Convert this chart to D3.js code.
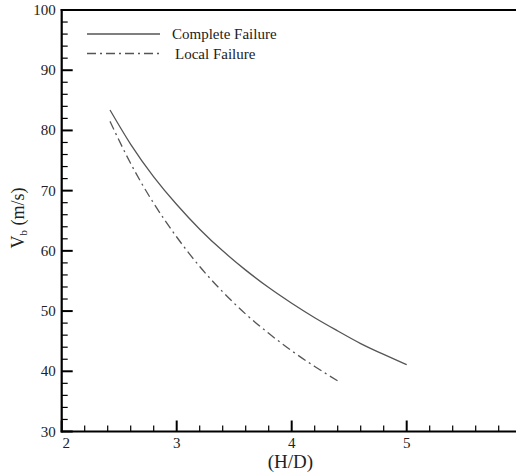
<!DOCTYPE html>
<html>
<head>
<meta charset="utf-8">
<script src="https://d3js.org/d3.v7.min.js"></script>
<style>
  body { margin: 0; background: #fff; }
  svg { display: block; }
  text { font-family: "Liberation Serif", "Times New Roman", serif; fill: #222; }
</style>
</head>
<body>
<svg id="chart" width="516" height="473"></svg>
<script>
// values
var complete_x = [2.42, 2.6, 2.8, 3.0, 3.2, 3.4, 3.6, 3.8, 4.0, 4.2, 4.4, 4.6, 4.8, 5.0];
var complete_v = [83.4, 77.7, 72.3, 67.7, 63.6, 60.0, 56.8, 53.9, 51.3, 48.9, 46.7, 44.6, 42.8, 41.1];
var local_x = [2.42, 2.6, 2.8, 3.0, 3.2, 3.4, 3.6, 3.8, 4.0, 4.2, 4.4];
var local_v = [81.5, 74.5, 67.9, 62.3, 57.4, 53.2, 49.5, 46.3, 43.4, 40.8, 38.4];
var x_ticks = [2, 3, 4, 5, 6];
var y_ticks = [30, 40, 50, 60, 70, 80, 90, 100];
var series_names = ["Complete Failure", "Local Failure"];

function draw_chart(){
    var svg = d3.select("#chart");
    var left = 61.7, right = 521.7, top = 10, bottom = 431.5;

    var x = d3.scaleLinear().domain([2, 6]).range([left, right]);
    var y = d3.scaleLinear().domain([30, 100]).range([bottom, top]);

    // frame: left, bottom and top lines
    svg.append("line").attr("x1", left).attr("x2", left).attr("y1", top - 1).attr("y2", bottom + 1)
        .attr("stroke", "#000").attr("stroke-width", 2.2);
    svg.append("line").attr("x1", left - 1).attr("x2", 516).attr("y1", bottom).attr("y2", bottom)
        .attr("stroke", "#000").attr("stroke-width", 2.2);
    svg.append("line").attr("x1", left - 1).attr("x2", 516).attr("y1", top).attr("y2", top)
        .attr("stroke", "#000").attr("stroke-width", 2.2);

    // inward ticks
    var x_minor = d3.range(2, 6.001, 0.2);
    var y_minor = d3.range(30, 100.001, 2);

    svg.append("g").selectAll("line").data(x_minor).join("line")
        .attr("x1", d => x(d)).attr("x2", d => x(d))
        .attr("y1", bottom).attr("y2", d => bottom - (Math.abs(d - Math.round(d)) < 1e-6 ? 11 : 6))
        .attr("stroke", "#000").attr("stroke-width", d => Math.abs(d - Math.round(d)) < 1e-6 ? 2 : 1.2);

    svg.append("g").selectAll("line").data(y_minor).join("line")
        .attr("y1", d => y(d)).attr("y2", d => y(d))
        .attr("x1", left).attr("x2", d => left + (d % 10 === 0 ? 11 : 6))
        .attr("stroke", "#000").attr("stroke-width", d => d % 10 === 0 ? 2 : 1.2);

    // tick labels
    svg.append("g").selectAll("text").data(x_ticks).join("text")
        .attr("x", d => d === 2 ? x(d) + 4.5 : x(d))
        .attr("y", bottom + 16)
        .attr("text-anchor", "middle")
        .attr("font-size", 15)
        .text(d => d);

    svg.append("g").selectAll("text").data(y_ticks).join("text")
        .attr("x", left - 6)
        .attr("y", d => y(d) + 5)
        .attr("text-anchor", "end")
        .attr("font-size", 15)
        .text(d => d);

    // axis titles
    svg.append("text").attr("x", 290.5).attr("y", 468)
        .attr("text-anchor", "middle").attr("font-size", 19).text("(H/D)");

    var yt = svg.append("text")
        .attr("transform", "translate(24,218) rotate(-90)")
        .attr("text-anchor", "middle").attr("font-size", 18);
    yt.append("tspan").text("V");
    yt.append("tspan").attr("font-size", 11).attr("dy", 3).text("b");
    yt.append("tspan").attr("dy", -3).text(" (m/s)");

    // curves
    var line = d3.line()
        .x(d => x(d[0]))
        .y(d => y(d[1]))
        .curve(d3.curveNatural);

    var complete = complete_x.map((d, i) => [d, complete_v[i]]);
    var local = local_x.map((d, i) => [d, local_v[i]]);

    svg.append("path").datum(complete).attr("d", line)
        .attr("fill", "none").attr("stroke", "#555").attr("stroke-width", 1.3);
    svg.append("path").datum(local).attr("d", line)
        .attr("fill", "none").attr("stroke", "#555").attr("stroke-width", 1.3)
        .attr("stroke-dasharray", "9,4,2,4");

    // legend
    var legend = svg.append("g");
    legend.append("line").attr("x1", 87).attr("x2", 160).attr("y1", 34).attr("y2", 34)
        .attr("stroke", "#555").attr("stroke-width", 1.3);
    legend.append("line").attr("x1", 87).attr("x2", 160).attr("y1", 53.5).attr("y2", 53.5)
        .attr("stroke", "#555").attr("stroke-width", 1.3).attr("stroke-dasharray", "9,4,2,4");
    legend.append("text").attr("x", 172).attr("y", 39).attr("font-size", 15).text(series_names[0]);
    legend.append("text").attr("x", 175).attr("y", 59).attr("font-size", 15).text(series_names[1]);
}

draw_chart();
</script>
</body>
</html>
